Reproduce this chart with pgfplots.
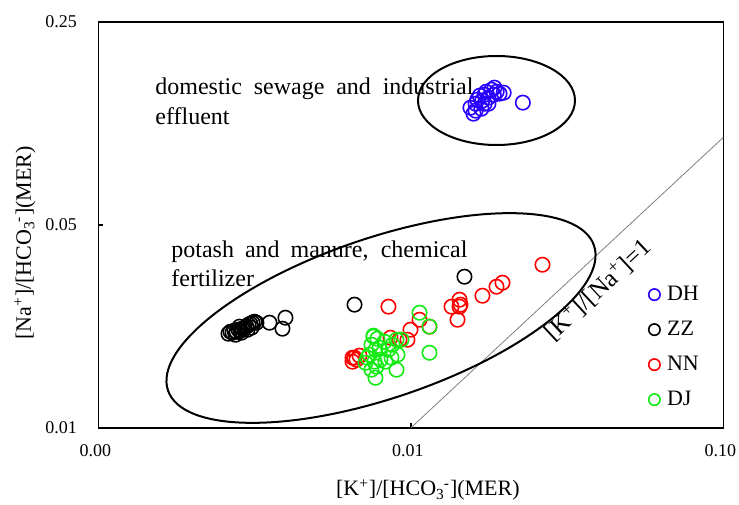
\documentclass[border=0pt]{standalone}
\usepackage{fontspec}
\setmainfont{Liberation Serif}
\usepackage{pgfplots}
\usepackage{pgfplotstable}
\pgfplotsset{compat=1.18}

\definecolor{dhblue}{RGB}{40,0,255}
\definecolor{nnred}{RGB}{255,0,0}
\definecolor{djgreen}{RGB}{20,235,20}

% [K+]/[HCO3-] and [Na+]/[HCO3-] milli-equivalent ratios per site
\pgfplotstableread{
x y
0.0155 0.1264
0.01585 0.1206
0.0161 0.1305
0.0163 0.1348
0.0166 0.1391
0.0169 0.1337
0.0172 0.1402
0.0174 0.1435
0.0177 0.1369
0.0181 0.1458
0.0184 0.1402
0.0185 0.1482
0.0188 0.1435
0.0192 0.1413
0.0198 0.1424
0.0228 0.1316
0.0177 0.1305
0.0168 0.1254
0.0161 0.1235
0.0172 0.1305
}\dhdata

\pgfplotstableread{
x y
0.002606 0.02107
0.002645 0.02141
0.002685 0.02124
0.002725 0.02158
0.002766 0.02141
0.002805 0.02175
0.002847 0.02158
0.002889 0.02192
0.002932 0.02210
0.002976 0.02228
0.003020 0.02263
0.003065 0.02281
0.003110 0.02299
0.003156 0.02317
0.003203 0.02299
0.002868 0.02124
0.002745 0.02090
0.002998 0.02175
0.002826 0.02228
0.003088 0.02210
0.003526 0.02299
0.003966 0.02392
0.003880 0.02192
0.006597 0.02653
0.01483 0.03311
}\zzdata

\pgfplotstableread{
x y
0.008472 0.02611
0.02635 0.03641
0.01963 0.03157
0.01878 0.03059
0.01693 0.02848
0.01430 0.02759
0.01348 0.02611
0.01430 0.02611
0.01440 0.02653
0.01409 0.02354
0.01146 0.02228
0.01065 0.02354
0.009963 0.02175
0.009745 0.02009
0.009189 0.02009
0.008598 0.02041
0.006597 0.01742
0.006695 0.01715
0.006500 0.01688
0.006844 0.01770
0.006500 0.01742
}\nndata

\pgfplotstableread{
x y
0.007586 0.02074
0.007812 0.02025
0.007475 0.01931
0.007698 0.01856
0.007366 0.01784
0.007928 0.01886
0.008226 0.01977
0.008472 0.01856
0.008725 0.01931
0.008988 0.02009
0.007642 0.01688
0.007475 0.01584
0.007755 0.01622
0.007987 0.01715
0.008287 0.01688
0.008661 0.01742
0.009054 0.01784
0.007698 0.01486
0.008988 0.01584
0.007258 0.01742
0.007152 0.01674
0.01065 0.02489
0.01146 0.02228
0.01146 0.01812
0.009324 0.02009
0.007586 0.02058
}\djdata

\begin{document}
\begin{tikzpicture}
\begin{axis}[
  scale only axis, width=312.5pt, height=203pt,
  xmode=log, ymode=log,
  xmin=0.001, xmax=0.1, ymin=0.01, ymax=0.25,
  xtick={0.001,0.01,0.1}, xticklabels={0.00,0.01,0.10},
  ytick={0.01,0.05,0.25}, yticklabels={0.01,0.05,0.25},
  minor tick style={draw=none},
  tick pos=left, tick align=inside, major tick length=2.5pt,
  axis line style={line width=0.8pt},
  every tick/.style={black, line width=0.8pt},
  ticklabel style={font=\fontsize{9}{10}\selectfont},
  xticklabel style={yshift=-5pt, xshift=-1.5pt},
  yticklabel style={xshift=-7.25pt},
  xlabel={[K\textsuperscript{+}]/[HCO\textsubscript{3}\kern-0.5pt\textsuperscript{-}](MER)},
  ylabel={[Na\textsuperscript{+}]/[HCO\textsubscript{3}\kern-0.5pt\textsuperscript{-}](MER)},
  label style={font=\fontsize{11}{12}\selectfont},
  x label style={at={(axis description cs:0.527,-0.1534)}, anchor=center},
  y label style={at={(axis description cs:-0.1176,0.455)}, anchor=center},
  legend style={draw=none, fill=none, inner sep=0pt, row sep=7.5pt, column sep=3.5pt,
    at={(axis description cs:0.8797,0.3534)}, anchor=north west,
    nodes={inner sep=0pt, text height=8pt, text depth=2pt},
    font=\fontsize{11}{13}\selectfont},
  legend cell align=left,
  legend image code/.code={\draw[#1, mark size=2.85pt] plot coordinates {(0pt,0pt)};},
]
\addplot[gray, line width=0.4pt, forget plot] coordinates {(0.01,0.01) (0.1,0.1)};
\addplot[only marks, mark=o, mark size=3.6pt, dhblue, mark options={line width=0.8pt}] table {\dhdata};
\addlegendentry{DH}
\addplot[only marks, mark=o, mark size=3.6pt, black, mark options={line width=0.8pt}] table {\zzdata};
\addlegendentry{ZZ}
\addplot[only marks, mark=o, mark size=3.6pt, nnred, mark options={line width=0.8pt}] table {\nndata};
\addlegendentry{NN}
\addplot[only marks, mark=o, mark size=3.6pt, djgreen, mark options={line width=0.8pt}] table {\djdata};
\addlegendentry{DJ}
\end{axis}

% source grouping ellipses and their captions
\draw[line width=1pt] (199pt,163.6pt) ellipse [x radius=39.25pt, y radius=22.25pt];
\draw[line width=1pt, rotate around={18.8:(141.25pt,54.85pt)}] (141.25pt,54.85pt) ellipse [x radius=112.5pt, y radius=40pt];

\node[anchor=base west, inner sep=0pt, font=\fontsize{12}{14}\selectfont] at (28.25pt,166.35pt)
  {\makebox[159pt][s]{domestic sewage and industrial}};
\node[anchor=base west, inner sep=0pt, font=\fontsize{12}{14}\selectfont] at (28.25pt,151.35pt) {effluent};
\node[anchor=base west, inner sep=0pt, font=\fontsize{12}{14}\selectfont] at (36.25pt,84.85pt)
  {\makebox[148pt][s]{potash and manure, chemical}};
\node[anchor=base west, inner sep=0pt, font=\fontsize{12}{14}\selectfont] at (36.25pt,70.85pt) {fertilizer};

\node[rotate=43, inner sep=0pt, font=\fontsize{12.5}{14}\selectfont] at (249.75pt,68.85pt)
  {[K\textsuperscript{+}]/[Na\textsuperscript{+}]=1};

\pgfresetboundingbox
\useasboundingbox (-49.25pt,-38.15pt) rectangle (320.25pt,213.85pt);
\end{tikzpicture}
\end{document}
